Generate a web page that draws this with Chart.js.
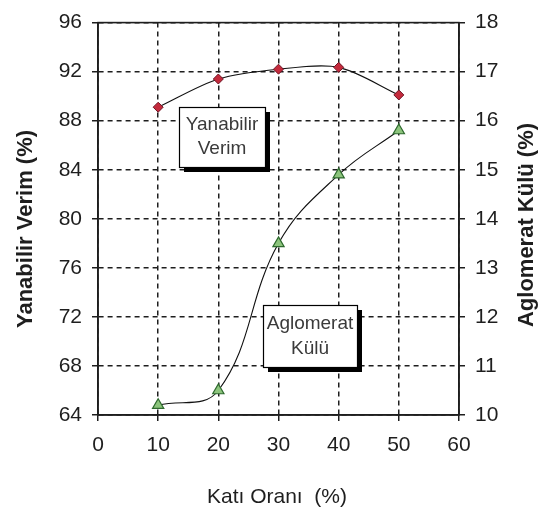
<!DOCTYPE html>
<html><head><meta charset="utf-8">
<script src="https://cdn.jsdelivr.net/npm/chart.js@4/dist/chart.umd.min.js"></script>
<style>html,body{margin:0;padding:0;background:#fff}canvas{display:block}</style>
</head><body>
<canvas id="c" width="546" height="520"></canvas>
<script>
// ---- data ----
const katiOrani = [10, 20, 30, 40, 50];
const yanabilirVerim = [89.1, 91.4, 92.2, 92.35, 90.1];
const aglomeratKulu = [10.2, 10.5, 13.5, 14.9, 15.8];
const xTicks = [0, 10, 20, 30, 40, 50, 60];
const leftTicks = [64, 68, 72, 76, 80, 84, 88, 92, 96];
const rightTicks = [10, 11, 12, 13, 14, 15, 16, 17, 18];
const xTitle = 'Katı Oranı  (%)';
const leftTitle = 'Yanabilir Verim (%)';
const rightTitle = 'Aglomerat Külü (%)';
const boxTexts = [['Yanabilir', 'Verim'], ['Aglomerat', 'Külü']];

// ---- styling / layout (not data) ----
const FONT = "'Liberation Sans',Arial,sans-serif";
const INK = '#1e1e1e';
// text box extents in axis units (x, left y)
const boxPlaces = [
  {x0: 13.5, x1: 27.8, y0: 89.1, y1: 84.2},
  {x0: 27.4, x1: 43.0, y0: 73.0, y1: 67.9}
];

const decor = {
  id: 'decor',
  beforeDatasetsDraw(chart) {
    const {ctx, chartArea: a} = chart;
    ctx.save();
    ctx.strokeStyle = INK; ctx.lineWidth = 1.6; ctx.setLineDash([]);
    ctx.strokeRect(a.left, a.top, a.right - a.left, a.bottom - a.top);
    ctx.restore();
  },
  afterDraw(chart) {
    const {ctx, scales} = chart;
    const xs = scales.x, ys = scales.y;
    ctx.save();
    boxPlaces.forEach((b, i) => {
      const L = Math.round(xs.getPixelForValue(b.x0)), R = Math.round(xs.getPixelForValue(b.x1));
      const T = Math.round(ys.getPixelForValue(b.y0)), B = Math.round(ys.getPixelForValue(b.y1));
      ctx.fillStyle = '#000';
      ctx.fillRect(L + 5, T + 5, R - L, B - T);
      ctx.fillStyle = '#fff';
      ctx.fillRect(L, T, R - L, B - T);
      ctx.strokeStyle = '#000'; ctx.lineWidth = 1.2;
      ctx.strokeRect(L + 0.5, T + 0.5, R - L, B - T);
      ctx.fillStyle = '#3a3a3a';
      ctx.font = "19px " + FONT;
      ctx.textAlign = 'center'; ctx.textBaseline = 'middle';
      const cx = (L + R) / 2, h = B - T;
      ctx.fillText(boxTexts[i][0], cx, T + h * 0.3);
      ctx.fillText(boxTexts[i][1], cx, T + h * 0.7);
    });
    // axis titles
    ctx.fillStyle = INK;
    ctx.textAlign = 'center'; ctx.textBaseline = 'middle';
    ctx.font = "bold 22px " + FONT;
    ctx.save(); ctx.translate(26, 229); ctx.rotate(-Math.PI / 2); ctx.fillText(leftTitle, 0, 0); ctx.restore();
    ctx.save(); ctx.translate(527, 225); ctx.rotate(-Math.PI / 2); ctx.fillText(rightTitle, 0, 0); ctx.restore();
    ctx.font = "21px " + FONT;
    ctx.fillText(xTitle, 277, 497);
    ctx.restore();
  }
};

const tickFont = {family: FONT, size: 21};
const gridCommon = {color: INK, lineWidth: 1.5, tickLength: 6, tickColor: INK, tickWidth: 1.5};

new Chart(document.getElementById('c'), {
  type: 'line',
  data: {
    datasets: [
      {
        label: 'Yanabilir Verim',
        data: katiOrani.map((x, i) => ({x: x, y: yanabilirVerim[i]})),
        yAxisID: 'y',
        borderColor: '#111', borderWidth: 1.1, tension: 0.3, fill: false,
        pointStyle: 'rectRot', pointRadius: 5,
        pointBackgroundColor: '#c42a3c', pointBorderColor: '#6e1424', pointBorderWidth: 1
      },
      {
        label: 'Aglomerat Külü',
        data: katiOrani.map((x, i) => ({x: x, y: aglomeratKulu[i]})),
        yAxisID: 'y1',
        borderColor: '#111', borderWidth: 1.1, tension: 0.4, fill: false,
        pointStyle: 'triangle', pointRadius: 6.5,
        pointBackgroundColor: '#8cc47c', pointBorderColor: '#2e6a2e', pointBorderWidth: 1.2
      }
    ]
  },
  options: {
    responsive: false, animation: false, devicePixelRatio: 1,
    layout: {padding: {top: 16, left: 0, right: 0, bottom: 0}},
    plugins: {legend: {display: false}, tooltip: {enabled: false}},
    scales: {
      x: {
        type: 'linear', position: 'bottom', min: 0, max: 60,
        afterBuildTicks: s => { s.ticks = xTicks.map(v => ({value: v})); },
        afterFit: s => { s.height = 105; },
        grid: Object.assign({}, gridCommon),
        border: {display: true, color: INK, width: 1.6, dash: [5, 4]},
        ticks: {font: tickFont, color: INK, padding: 12, maxRotation: 0}
      },
      y: {
        type: 'linear', position: 'left', min: 64, max: 96,
        afterBuildTicks: s => { s.ticks = leftTicks.map(v => ({value: v})); },
        afterFit: s => { s.width = 98; },
        grid: Object.assign({}, gridCommon),
        border: {display: true, color: INK, width: 1.6, dash: [5, 4]},
        ticks: {font: tickFont, color: INK, padding: 10}
      },
      y1: {
        type: 'linear', position: 'right', min: 10, max: 18,
        afterBuildTicks: s => { s.ticks = rightTicks.map(v => ({value: v})); },
        afterFit: s => { s.width = 87; },
        grid: Object.assign({}, gridCommon, {drawOnChartArea: false}),
        border: {display: true, color: INK, width: 1.6},
        ticks: {font: tickFont, color: INK, padding: 10}
      }
    }
  },
  plugins: [decor]
});
</script>
</body></html>
